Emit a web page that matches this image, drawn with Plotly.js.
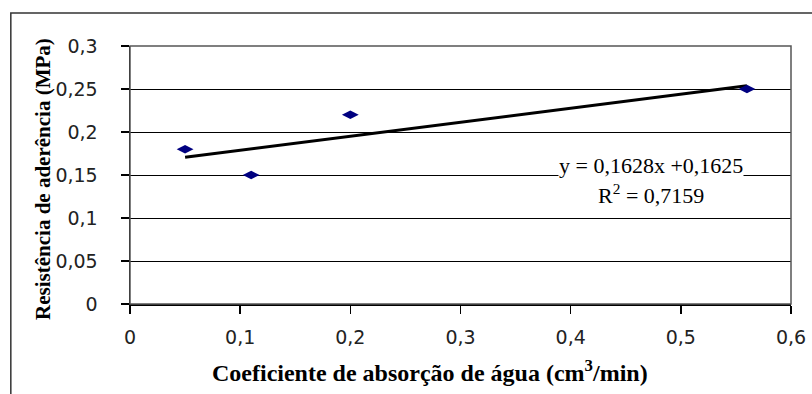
<!DOCTYPE html>
<html>
<head>
<meta charset="utf-8">
<script src="https://cdn.plot.ly/plotly-3.0.1.min.js"></script>
<style>html,body{margin:0;padding:0;background:#fff;}#chart{width:812px;height:394px;}</style>
</head>
<body>
<div id="chart"></div>
<script>
// Data
const absorcao = [0.05, 0.11, 0.2, 0.56];
const resistencia = [0.18, 0.15, 0.22, 0.25];
// Linear trend line end points (y = 0,1628x + 0,1625)
const trendX = [0.05, 0.56];
const trendY = [0.1706, 0.2537];
const equationText = 'y = 0,1628x +0,1625';
const r2Text = 'R<sup>2</sup> = 0,7159';
const yTickVals = [0, 0.05, 0.1, 0.15, 0.2, 0.25, 0.3];
const yTickText = ['0', '0,05', '0,1', '0,15', '0,2', '0,25', '0,3'];
const xTickVals = [0, 0.1, 0.2, 0.3, 0.4, 0.5, 0.6];
const xTickText = ['0', '0,1', '0,2', '0,3', '0,4', '0,5', '0,6'];
const xTitle = 'Coeficiente de absorção de água (cm<sup>3</sup>/min)';
const yTitle = 'Resistência de aderência (MPa)';

const serif = 'Liberation Serif, Times New Roman, serif';
const sans = 'DejaVu Sans, Verdana, sans-serif';

const traces = [
  {
    x: trendX, y: trendY, type: 'scatter', mode: 'lines',
    line: {color: '#000000', width: 3}, hoverinfo: 'skip', showlegend: false
  },
  {
    x: absorcao, y: resistencia, type: 'scatter', mode: 'markers',
    marker: {symbol: 'diamond-wide', size: 12, color: '#000080'},
    showlegend: false
  }
];

const layout = {
  width: 812, height: 394,
  margin: {l: 130, r: 21, t: 46, b: 90, pad: 0},
  paper_bgcolor: '#ffffff', plot_bgcolor: '#ffffff',
  showlegend: false,
  font: {family: sans, size: 19, color: '#000000'},
  xaxis: {
    range: [0, 0.6], tickvals: xTickVals, ticktext: xTickText,
    showgrid: false, zeroline: false,
    showline: true, linecolor: '#000000', linewidth: 1.5,
    ticks: 'outside', ticklen: 8, tickwidth: 1.5, tickcolor: '#000000',
    ticklabelstandoff: 8,
    tickfont: {family: sans, size: 19, color: '#222222'}
  },
  yaxis: {
    range: [0, 0.3], tickvals: yTickVals, ticktext: yTickText,
    showgrid: true, gridcolor: '#000000', gridwidth: 1, zeroline: false,
    showline: true, linecolor: '#000000', linewidth: 1.5,
    ticks: 'outside', ticklen: 8, tickwidth: 1.5, tickcolor: '#000000',
    ticklabelstandoff: 19,
    tickfont: {family: sans, size: 19, color: '#222222'}
  },
  shapes: [
    {type: 'rect', xref: 'paper', yref: 'paper', x0: 0, x1: 1, y0: 0, y1: 1,
     line: {color: '#555555', width: 1.5}, layer: 'above'},
    {type: 'rect', xref: 'paper', yref: 'paper', x0: -0.1803, x1: 1.05, y0: -0.40, y1: 1.128,
     line: {color: '#333333', width: 1.5}, layer: 'below'}
  ],
  annotations: [
    {xref: 'x', yref: 'y', x: 0.4727, y: 0.1610, text: equationText, showarrow: false,
     xanchor: 'center', yanchor: 'middle', bgcolor: '#ffffff',
     font: {family: serif, size: 22, color: '#000000'}, borderpad: 0},
    {xref: 'x', yref: 'y', x: 0.4727, y: 0.1279, text: r2Text, showarrow: false,
     xanchor: 'center', yanchor: 'middle', bgcolor: '#ffffff',
     font: {family: serif, size: 22, color: '#000000'}, borderpad: 0},
    {xref: 'paper', yref: 'paper', x: 0.4545, y: -0.2597, text: '<b>' + xTitle + '</b>', showarrow: false,
     xanchor: 'center', yanchor: 'middle',
     font: {family: serif, size: 24, color: '#000000'}},
    {xref: 'paper', yref: 'paper', x: -0.1318, y: 0.4845, text: '<b>' + yTitle + '</b>', showarrow: false,
     xanchor: 'center', yanchor: 'middle', textangle: -90,
     font: {family: serif, size: 21, color: '#000000'}}
  ]
};

Plotly.newPlot('chart', traces, layout, {displayModeBar: false, staticPlot: true});
</script>
</body>
</html>
